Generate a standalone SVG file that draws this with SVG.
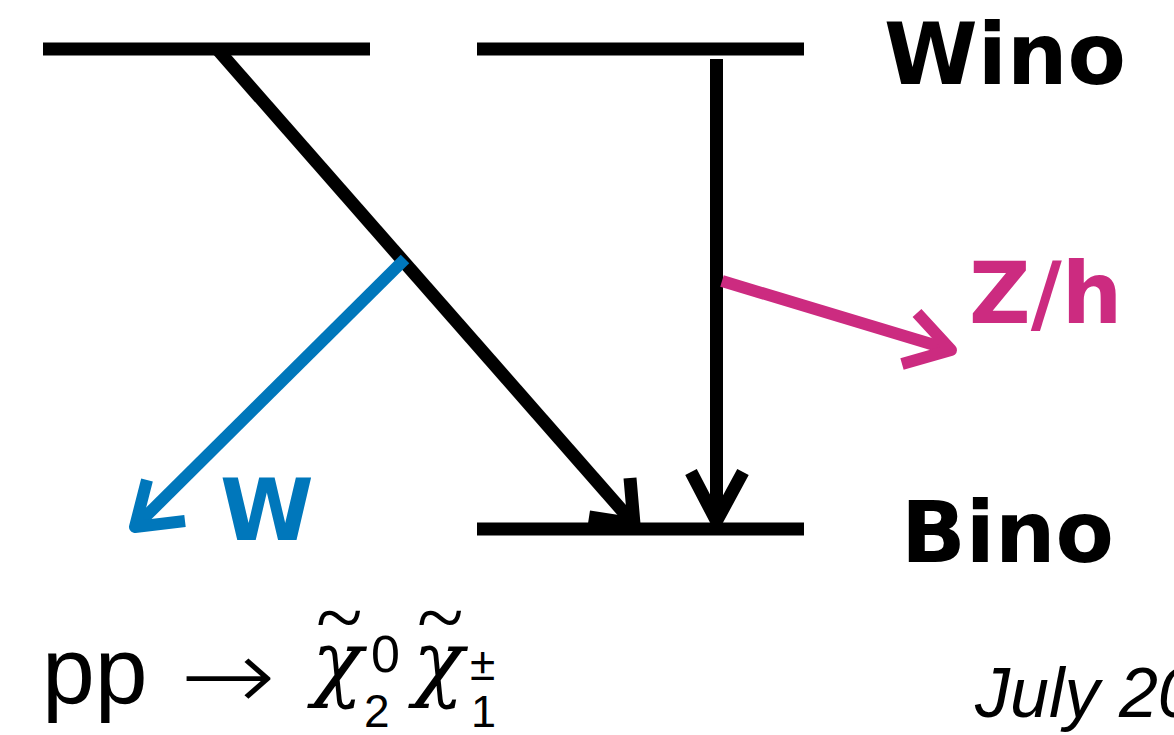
<svg xmlns="http://www.w3.org/2000/svg" width="1174" height="735" viewBox="0 0 1174 735">
<style>
.lvl{stroke:#000;stroke-width:13;fill:none;stroke-linecap:butt}
.blk{stroke:#000;stroke-width:13;fill:none;stroke-linecap:butt;stroke-linejoin:miter}
.blu{stroke:#0077bb;stroke-width:12;fill:none;stroke-linecap:butt;stroke-linejoin:round}
.mag{stroke:#cc2b80;stroke-width:12;fill:none;stroke-linecap:butt;stroke-linejoin:round}
.lab{font-family:"DejaVu Sans",sans-serif;font-weight:bold;font-size:85px}
.sans{font-family:"Liberation Sans",Arial,sans-serif}
.ital{font-family:"DejaVu Serif","Liberation Serif",serif;font-style:italic}
.tld{font-family:"Liberation Serif","Times New Roman",serif;font-style:normal;font-size:86px}
</style>
<rect width="1174" height="735" fill="#fff"/>
<g id="wino-left"><line class="lvl" x1="43" y1="49" x2="370" y2="49"/></g>
<g id="wino-right"><line class="lvl" x1="477" y1="49" x2="804" y2="49"/></g>
<g id="bino"><line class="lvl" x1="477" y1="529" x2="804" y2="529"/></g>
<g id="connectors">
<line class="blk" x1="218" y1="50" x2="634" y2="524"/>
<polyline class="blk" points="630,478 634,524 589,517"/>
<line class="blk" x1="716.5" y1="59" x2="716.5" y2="521"/>
<polyline class="blk" points="691,472 716.5,521 743,472"/>
<line class="blu" x1="405" y1="259" x2="135" y2="527"/>
<polyline class="blu" points="147,480 135,527 185,521"/>
<line class="mag" x1="722" y1="281" x2="951" y2="350"/>
<polyline class="mag" points="917,313 951,350 902,364"/>
</g>
<g id="label-wino"><text class="lab" x="884" y="84" font-size="84">Wino</text></g>
<g id="label-bino"><text class="lab" x="901" y="562" font-size="86">Bino</text></g>
<g id="label-zh"><text class="lab" x="969" y="323" fill="#cc2b80">Z/h</text></g>
<g id="label-w"><text class="lab" x="220" y="540" fill="#0077bb">W</text></g>
<g id="formula">
<text class="sans" x="42" y="703" font-size="95">pp</text>
<text x="180" y="710" font-family="'DejaVu Sans ExtraLight','DejaVu Sans',sans-serif" font-weight="200" font-size="100" textLength="96" lengthAdjust="spacingAndGlyphs">→</text>
<text class="ital" x="312" y="690" font-size="84">χ<tspan class="tld" x="316" y="646">~</tspan></text>
<text class="sans" x="371" y="672" font-size="52">0</text>
<text class="sans" x="364" y="727" font-size="46">2</text>
<text class="ital" x="413" y="690" font-size="84">χ<tspan class="tld" x="417" y="646">~</tspan></text>
<text class="sans" x="470" y="680" font-size="46">±</text>
<text class="sans" x="471" y="727" font-size="45">1</text>
</g>
<g id="date"><text class="sans" x="975" y="717" font-size="70" font-style="italic">July 20</text></g>
</svg>
